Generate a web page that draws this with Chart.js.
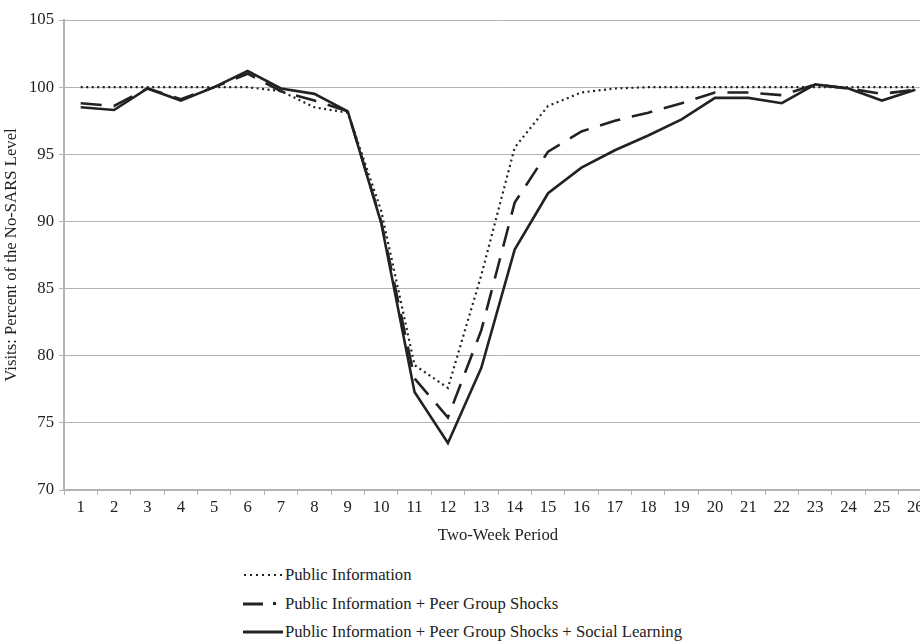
<!DOCTYPE html>
<html>
<head>
<meta charset="utf-8">
<script src="https://cdn.jsdelivr.net/npm/chart.js@4.4.1/dist/chart.umd.min.js"></script>
<style>
  html, body { margin: 0; padding: 0; background: #fff; overflow: hidden; }
  body { width: 920px; height: 642px; position: relative; font-family: "Liberation Serif", "Times New Roman", serif; }
  #wrap { position: absolute; left: 0; top: 0; width: 938px; height: 550px; }
  #legend { position: absolute; left: 243px; top: 561px; font-size: 16.7px; color: #222; }
  .row { height: 28.5px; display: flex; align-items: center; white-space: nowrap; }
  .row svg { display: block; margin-right: 2px; }
</style>
</head>
<body>
<div id="wrap"><canvas id="visitsChart" width="938" height="550"></canvas></div>
<div id="legend"></div>
<script>
const periods = ['1','2','3','4','5','6','7','8','9','10','11','12','13','14','15','16','17','18','19','20','21','22','23','24','25','26'];
const publicInfo = [100, 100, 100, 100, 100, 100, 99.7, 98.5, 98.1, 90.8, 79.3, 77.6, 86.0, 95.5, 98.6, 99.6, 99.9, 100, 100, 100, 100, 100, 100, 100, 100, 100];
const peerShocks = [98.8, 98.6, 99.9, 99.1, 100, 101.0, 99.7, 99.0, 98.2, 90.0, 78.3, 75.4, 81.9, 91.4, 95.2, 96.7, 97.5, 98.1, 98.8, 99.6, 99.6, 99.4, 100.2, 99.9, 99.5, 99.8];
const socialLearning = [98.5, 98.3, 99.9, 99.0, 100, 101.2, 99.9, 99.5, 98.2, 89.9, 77.3, 73.5, 79.1, 87.9, 92.1, 94.0, 95.3, 96.4, 97.6, 99.2, 99.2, 98.8, 100.2, 99.9, 99.0, 99.8];
const yTicks = [70, 75, 80, 85, 90, 95, 100, 105];
const seriesNames = ['Public Information', 'Public Information + Peer Group Shocks', 'Public Information + Peer Group Shocks + Social Learning'];

const serif = '"Liberation Serif", "Times New Roman", serif';
const gridGrey = '#b3b3b3';
const fontSize = 16.7;

document.addEventListener('DOMContentLoaded', function () {
    const ctx = document.getElementById('visitsChart');

    new Chart(ctx, {
        type: 'line',
        data: {
            labels: periods,
            datasets: [{
                label: seriesNames[0],
                data: publicInfo,
                borderColor: '#222',
                borderWidth: 2.2,
                borderDash: [2, 3.5],
                pointRadius: 0,
                tension: 0
            }, {
                label: seriesNames[1],
                data: peerShocks,
                borderColor: '#222',
                borderWidth: 2.6,
                borderDash: [21, 12],
                pointRadius: 0,
                tension: 0
            }, {
                label: seriesNames[2],
                data: socialLearning,
                borderColor: '#222',
                borderWidth: 2.6,
                pointRadius: 0,
                tension: 0
            }]
        },
        options: {
            responsive: false,
            animation: false,
            layout: { padding: { top: 20, right: 6, left: 0, bottom: 0 } },
            plugins: { legend: { display: false }, tooltip: { enabled: false } },
            scales: {
                x: {
                    offset: true,
                    grid: { offset: true, drawOnChartArea: false, drawTicks: true, tickLength: 5, color: gridGrey },
                    border: { color: gridGrey, width: 2 },
                    ticks: { color: '#222', font: { family: serif, size: fontSize }, padding: 3, maxRotation: 0, autoSkip: false },
                    title: { display: true, text: 'Two-Week Period', color: '#222', font: { family: serif, size: fontSize }, padding: { top: 0 } },
                    afterFit: function (scale) { scale.height = 60; }
                },
                y: {
                    min: 70,
                    max: 105,
                    afterBuildTicks: function (scale) { scale.ticks = yTicks.map(v => ({ value: v })); },
                    grid: { color: gridGrey, lineWidth: 1, tickLength: 5 },
                    border: { color: gridGrey, width: 2 },
                    ticks: { color: '#222', font: { family: serif, size: fontSize }, padding: 5 },
                    title: { display: true, text: 'Visits: Percent of the No-SARS Level', color: '#222', font: { family: serif, size: fontSize }, padding: { top: 2, bottom: 0 } },
                    afterFit: function (scale) { scale.width = 64; }
                }
            }
        }
    });

    // legend below the chart
    const legend = document.getElementById('legend');
    const samples = [
        '<line x1="1" y1="7" x2="39" y2="7" stroke="#222" stroke-width="2.2" stroke-dasharray="2 4"/>',
        '<line x1="0" y1="7" x2="20" y2="7" stroke="#222" stroke-width="3"/><rect x="30" y="5" width="3" height="3" fill="#222"/>',
        '<line x1="0" y1="7" x2="40" y2="7" stroke="#222" stroke-width="3"/>'
    ];
    seriesNames.forEach(function (name, i) {
        const row = document.createElement('div');
        row.className = 'row';
        row.innerHTML = '<svg width="40" height="14">' + samples[i] + '</svg><span>' + name + '</span>';
        legend.appendChild(row);
    });
});
</script>
</body>
</html>
